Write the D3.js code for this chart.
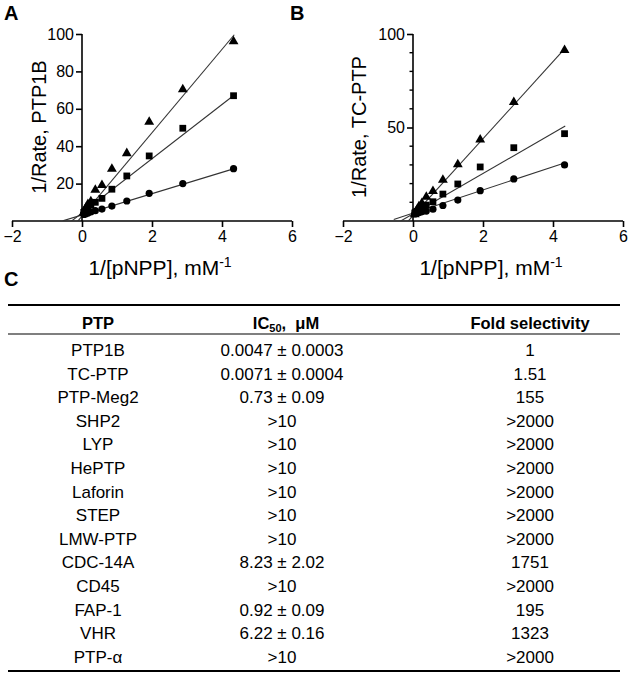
<!DOCTYPE html>
<html><head><meta charset="utf-8">
<script src="https://cdn.jsdelivr.net/npm/d3@7"></script>
<style>
body{margin:0;background:#fff}
svg{display:block;font-family:"Liberation Sans",Arial,Helvetica,sans-serif}
</style>
</head><body><svg id="c" width="632" height="675"></svg>
<script>
// ---------- data ----------
const xValues = [4.33, 2.88, 1.92, 1.28, 0.854, 0.57, 0.38, 0.253, 0.169, 0.1125, 0.075, 0.05];
const ptp1bCircle   = [28, 20, 14.8, 10.7, 8, 6.4, 5.5, 4.8, 4.3, 3.9, 3.7, 3.5];
const ptp1bSquare   = [67, 49.6, 34.8, 24.1, 17, 12.1, 10, 8.5, 7, 5.8, 5, 4.6];
const ptp1bTriangle = [96, 70.4, 53, 36.2, 27.8, 19.2, 16.6, 10.5, 9, 7, 5.5, 4.5];
const tcptpCircle   = [30, 22.5, 16.2, 11.2, 8.3, 6.3, 5.3, 4.9, 4.5, 4.2, 4, 3.8];
const tcptpSquare   = [46.7, 39.2, 28.9, 19.8, 14.4, 10.3, 8.5, 7.2, 6, 5.2, 4.7, 4.3];
const tcptpTriangle = [91.4, 63.5, 43.5, 30.2, 22, 15.9, 12.9, 9.5, 7.8, 5.8, 4.5, 3.5];
// fitted lines: [slope, intercept] for circle, square, triangle
const ptp1bFits = [[5.7, 3.2], [14.5, 4.3], [22.3, 2.6]];
const tcptpFits = [[6.2, 4.2], [10.8, 3.8], [20.6, 2.8]];
const fitRange = [-0.55, 4.35];
const xTicks = [-2, 0, 2, 4, 6];
const ptp1bYTicks = [20, 40, 60, 80, 100];
const tcptpYTicks = [50, 100];
const tcptpYMinor = [10, 20, 30, 40, 60, 70, 80, 90];
const seriesShapes = ["circle", "square", "triangle"];

const tableHeaders = ["PTP", "IC50,  μM", "Fold selectivity"];
const ptpNames = ["PTP1B","TC-PTP","PTP-Meg2","SHP2","LYP","HePTP","Laforin","STEP","LMW-PTP","CDC-14A","CD45","FAP-1","VHR","PTP-α"];
const ic50Values = ["0.0047 ± 0.0003","0.0071 ± 0.0004","0.73 ± 0.09",">10",">10",">10",">10",">10",">10","8.23 ± 2.02",">10","0.92 ± 0.09","6.22 ± 0.16",">10"];
const foldValues = ["1","1.51","155",">2000",">2000",">2000",">2000",">2000",">2000","1751",">2000","195","1323",">2000"];

// ---------- drawing ----------
const svg = d3.select("#c");

function panel(opts) {
  const x = d3.scaleLinear().domain([-2, 6]).range(opts.xr);
  const y = d3.scaleLinear().domain([0, 100]).range([221, 34]);
  const g = svg.append("g");

  const cid = "clip" + opts.id;
  svg.append("clipPath").attr("id", cid).append("rect")
    .attr("x", x(-2)).attr("y", y(105)).attr("width", x(6) - x(-2)).attr("height", y(0) - y(105));

  // x axis
  const xa = g.append("g").attr("transform", `translate(0,${y(0)})`)
    .call(d3.axisBottom(x).tickValues(xTicks).tickSize(6).tickSizeOuter(0).tickPadding(4).tickFormat(d3.format("d")));
  xa.select(".domain").remove();
  xa.selectAll("line").attr("stroke", "#000").attr("stroke-width", 1.6);
  xa.selectAll("text").attr("font-size", 16).attr("fill", "#000").attr("font-family", null);
  g.append("line").attr("x1", x(-2)).attr("x2", x(6)).attr("y1", y(0)).attr("y2", y(0))
    .attr("stroke", "#000").attr("stroke-width", 1.6);

  // y axis
  const ya = g.append("g").attr("transform", `translate(${x(0)},0)`)
    .call(d3.axisLeft(y).tickValues(opts.yTicks).tickSize(6).tickSizeOuter(0).tickPadding(2));
  ya.select(".domain").remove();
  ya.selectAll("line").attr("stroke", "#000").attr("stroke-width", 1.6);
  ya.selectAll("text").attr("font-size", 16).attr("fill", "#000").attr("font-family", null);
  if (opts.minor) {
    g.append("g").selectAll("line").data(opts.minor).join("line")
      .attr("x1", x(0) - 3.5).attr("x2", x(0)).attr("y1", d => y(d)).attr("y2", d => y(d))
      .attr("stroke", "#000").attr("stroke-width", 1.4);
  }
  g.append("line").attr("x1", x(0)).attr("x2", x(0)).attr("y1", y(0)).attr("y2", y(100))
    .attr("stroke", "#000").attr("stroke-width", 1.6);

  // fit lines
  const lg = g.append("g").attr("clip-path", `url(#${cid})`);
  opts.fits.forEach(([m, b]) => {
    lg.append("line")
      .attr("x1", x(fitRange[0])).attr("y1", y(m * fitRange[0] + b))
      .attr("x2", x(fitRange[1])).attr("y2", y(m * fitRange[1] + b))
      .attr("stroke", "#333").attr("stroke-width", 1.1);
  });

  // points
  opts.series.forEach((vals, i) => {
    const shape = seriesShapes[i];
    const pts = g.append("g");
    const data = xValues.map((xv, k) => [xv, vals[k]]);
    if (shape === "circle") {
      pts.selectAll("circle").data(data).join("circle")
        .attr("cx", d => x(d[0])).attr("cy", d => y(d[1])).attr("r", 3.6).attr("fill", "#000");
    } else {
      const sym = d3.symbol().type(shape === "square" ? d3.symbolSquare : d3.symbolTriangle)
        .size(shape === "square" ? 46 : 42);
      pts.selectAll("path").data(data).join("path")
        .attr("transform", d => `translate(${x(d[0])},${y(d[1])})`).attr("d", sym).attr("fill", "#000");
    }
  });

  // axis titles
  g.append("text").attr("transform", `translate(${opts.yTitleX},127) rotate(-90)`)
    .attr("text-anchor", "middle").attr("font-size", 20).text(opts.yTitle);
  const xt = g.append("text").attr("x", (x(-2) + x(6)) / 2 + 8).attr("y", 275)
    .attr("text-anchor", "middle").attr("font-size", 21);
  xt.append("tspan").text("1/[pNPP], mM");
  xt.append("tspan").attr("dy", -8).attr("font-size", 14).text("-1");

  // panel letter
  svg.append("text").attr("x", opts.letterX).attr("y", 20).attr("font-weight", "bold")
    .attr("font-size", 20).text(opts.letter);
}

panel({id: "A", xr: [12, 292], yTicks: ptp1bYTicks, fits: ptp1bFits,
  series: [ptp1bCircle, ptp1bSquare, ptp1bTriangle], yTitle: "1/Rate, PTP1B", yTitleX: 46, letter: "A", letterX: 4});
panel({id: "B", xr: [343, 623], yTicks: tcptpYTicks, minor: tcptpYMinor, fits: tcptpFits,
  series: [tcptpCircle, tcptpSquare, tcptpTriangle], yTitle: "1/Rate, TC-PTP", yTitleX: 366, letter: "B", letterX: 290});

// ---------- table ----------
svg.append("text").attr("x", 4).attr("y", 286).attr("font-weight", "bold").attr("font-size", 20).text("C");
const colX = [98, 282, 530];
const tLeft = 8, tRight = 620;
const rowY = d3.scalePoint().domain(d3.range(ptpNames.length)).range([350, 657]);
svg.append("line").attr("x1", tLeft).attr("x2", tRight).attr("y1", 305).attr("y2", 305).attr("stroke", "#000").attr("stroke-width", 2);
svg.append("line").attr("x1", tLeft).attr("x2", tRight).attr("y1", 334).attr("y2", 334).attr("stroke", "#000").attr("stroke-width", 1.2);
svg.append("line").attr("x1", tLeft).attr("x2", tRight).attr("y1", 671).attr("y2", 671).attr("stroke", "#000").attr("stroke-width", 2);

const hdr = svg.append("g").attr("font-weight", "bold").attr("font-size", 16.5).attr("text-anchor", "middle");
hdr.append("text").attr("x", colX[0]).attr("y", 323).attr("dy", "0.35em").text(tableHeaders[0]);
const ic = hdr.append("text").attr("x", colX[1] + 4).attr("y", 323).attr("dy", "0.35em").attr("xml:space", "preserve");
ic.append("tspan").text("IC");
ic.append("tspan").attr("font-size", 11).attr("dy", 3).text("50");
ic.append("tspan").attr("dy", -3).text(",  μM");
hdr.append("text").attr("x", colX[2]).attr("y", 323).attr("dy", "0.35em").text(tableHeaders[2]);

const body = svg.append("g").attr("font-size", 17).attr("text-anchor", "middle");
[ptpNames, ic50Values, foldValues].forEach((col, c) => {
  body.append("g").selectAll("text").data(col).join("text")
    .attr("x", colX[c]).attr("y", (d, i) => rowY(i)).attr("dy", "0.35em").text(d => d);
});
</script>
</body></html>
